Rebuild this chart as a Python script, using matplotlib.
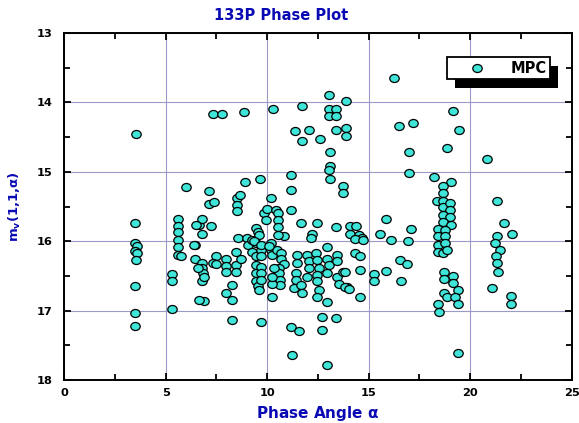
import matplotlib
matplotlib.use("Agg")
import matplotlib.pyplot as plt
from matplotlib.patches import Rectangle
from matplotlib.path import Path
from matplotlib.ticker import MultipleLocator

plt.rcParams['font.family'] = ['DejaVu Sans']
plt.rcParams['font.weight'] = 'bold'
plt.rcParams['mathtext.default'] = 'regular'

# MPC observations: phase angle (deg) and reduced magnitude
alpha = [
    3.57, 3.48, 3.48, 3.60, 3.48, 3.60, 3.55, 3.48, 3.48, 3.48,
    5.34, 5.34, 5.34, 5.59, 5.59, 5.59, 5.59, 5.59, 5.59, 5.78,
    6.01, 6.47, 6.47, 6.67, 6.78, 6.78, 6.78, 6.80, 6.85, 6.78,
    6.90, 6.90, 6.50, 6.42, 6.58, 6.64,
    7.16, 7.16, 7.38, 7.24, 7.48, 7.32, 7.50, 7.35, 7.78, 8.87,
    7.97, 7.97, 7.97, 7.97, 8.25, 8.25, 8.25, 8.46, 8.46, 8.46,
    8.71, 8.59, 8.54, 8.54, 8.54, 8.65, 8.90, 9.03, 9.08, 9.28,
    9.28, 9.44, 9.57, 9.44, 9.44, 9.44, 9.44, 9.44, 9.57, 9.61,
    9.69, 9.69, 9.69, 9.69, 9.69, 9.61, 9.66, 9.69, 9.85, 9.94,
    10.01, 10.18, 10.30, 10.18, 10.18, 10.26, 10.51, 10.67, 10.67, 10.83,
    10.83, 10.59, 10.59, 10.64, 10.64, 10.26, 10.26, 10.26, 10.34, 10.42,
    10.55, 10.55, 10.55, 10.55, 9.36, 9.69, 10.10,
    11.16, 11.16, 11.16, 11.37, 11.73, 12.06, 11.73, 12.62, 13.04, 13.04,
    13.37, 13.04, 13.37, 13.90, 13.37, 13.90, 13.90, 13.12, 13.12, 13.04,
    13.12, 13.76, 13.76, 11.65, 12.47, 13.37, 12.23, 12.14, 12.95, 11.48,
    11.48, 11.40, 11.40, 11.31, 11.65, 11.70, 11.98, 12.06, 12.06, 11.98,
    12.39, 12.47, 12.55, 12.47, 12.47, 12.55, 12.47, 12.95, 12.95, 13.04,
    12.95, 13.43, 13.43, 13.43, 13.53, 13.76, 13.94, 12.71, 13.37, 11.20,
    11.57, 12.71, 11.24, 12.95,
    16.26, 16.47, 17.16, 17.00, 17.00, 14.10, 14.40, 14.10, 14.51, 14.67,
    14.35, 14.71, 15.85, 15.57, 16.09, 17.08, 16.96, 14.35, 14.56, 13.86,
    14.56, 13.86, 14.02, 14.56, 15.28, 15.28, 15.85, 16.55, 16.87, 16.58,
    19.13, 19.46, 18.87, 20.84, 18.24, 19.05, 18.64, 18.64, 18.35, 18.64,
    18.64, 19.00, 19.00, 18.64, 19.00, 18.64, 19.05, 18.40, 18.76, 18.40,
    18.76, 18.40, 18.76, 18.40, 18.68, 18.88, 18.73, 18.73, 19.17, 19.17,
    19.38, 18.73, 18.88, 19.24, 18.43, 19.38, 18.46, 19.38,
    21.34, 21.67, 22.06, 21.34, 21.21, 21.45, 21.29, 21.34, 21.37, 21.05,
    21.99, 21.99,
]
mag = [
    14.46, 15.73, 16.03, 16.07, 16.14, 16.17, 16.27, 16.64, 17.03, 17.22,
    16.47, 16.58, 16.98, 15.68, 15.78, 15.87, 15.98, 16.09, 16.20, 16.22,
    15.22, 16.05, 16.25, 15.77, 15.68, 15.90, 16.31, 16.39, 16.46, 16.58,
    16.52, 16.86, 15.77, 16.05, 16.39, 16.85,
    15.28, 15.47, 15.44, 15.78, 16.22, 16.32, 16.33, 14.17, 14.16, 14.13,
    16.25, 16.36, 16.45, 16.75, 16.63, 16.85, 17.14, 16.15, 16.34, 16.45,
    16.26, 15.96, 15.38, 15.48, 15.57, 15.33, 15.14, 15.96, 16.05, 15.98,
    16.15, 15.81, 15.86, 16.03, 16.22, 16.34, 16.46, 16.58, 16.64, 15.91,
    16.13, 16.22, 16.37, 16.46, 16.56, 16.70, 15.11, 17.16, 15.60, 15.69,
    15.53, 15.38, 14.10, 16.03, 16.13, 16.20, 16.13, 16.17, 16.25, 16.33,
    15.93, 16.39, 16.46, 16.56, 16.63, 16.80, 16.61, 16.51, 16.39, 15.55,
    15.60, 15.69, 15.79, 15.91, 16.00, 16.05, 16.07,
    15.05, 15.26, 15.55, 14.41, 14.05, 14.40, 14.56, 14.52, 13.89, 14.10,
    14.10, 14.20, 14.20, 13.98, 14.40, 14.37, 14.48, 14.71, 14.92, 14.97,
    15.11, 15.20, 15.30, 15.74, 15.73, 15.79, 15.90, 15.96, 16.08, 16.20,
    16.32, 16.46, 16.56, 16.68, 16.63, 16.75, 16.20, 16.29, 16.39, 16.51,
    16.17, 16.27, 16.39, 16.49, 16.58, 16.70, 16.80, 16.87, 16.25, 16.34,
    16.46, 16.20, 16.29, 16.51, 16.61, 16.44, 16.66, 17.09, 17.10, 17.23,
    17.30, 17.28, 17.64, 17.78,
    13.64, 14.34, 14.30, 14.71, 15.01, 15.78, 15.78, 15.89, 15.91, 15.96,
    15.97, 15.98, 15.68, 15.90, 15.98, 15.82, 16.00, 16.17, 16.22, 16.45,
    16.42, 16.66, 16.69, 16.81, 16.47, 16.58, 16.43, 16.27, 16.33, 16.58,
    14.12, 14.40, 14.66, 14.81, 15.07, 15.15, 15.21, 15.31, 15.42, 15.42,
    15.50, 15.45, 15.55, 15.62, 15.65, 15.72, 15.77, 15.82, 15.84, 15.92,
    15.92, 16.05, 16.03, 16.15, 16.17, 16.12, 16.44, 16.54, 16.50, 16.60,
    16.70, 16.75, 16.81, 16.81, 16.91, 16.90, 17.02, 17.61,
    15.42, 15.73, 15.89, 15.93, 16.02, 16.13, 16.22, 16.32, 16.44, 16.67,
    16.79, 16.90,
]

blue = '#0A0AB4'

# slightly flattened circle for the markers
circ = Path.unit_circle()
oval = Path(circ.vertices * [1.0, 0.85], circ.codes)

fig = plt.figure(figsize=(5.79, 4.23), dpi=100)
ax = fig.add_axes([0.1105, 0.1017, 0.877, 0.820])

ax.plot(alpha, mag, marker=oval, ls='none', ms=6.8, mfc='#3EE5D8', mec='black',
        mew=0.9, label='MPC', zorder=3)

ax.set_xlim(0, 25)
ax.set_ylim(18, 13)
ax.xaxis.set_major_locator(MultipleLocator(5))
ax.xaxis.set_minor_locator(MultipleLocator(2.5))
ax.yaxis.set_major_locator(MultipleLocator(1))
ax.yaxis.set_minor_locator(MultipleLocator(0.5))
ax.grid(True, which='major', color='#9A9AC8', lw=0.8, zorder=0)
ax.tick_params(which='both', direction='in', top=True, right=True,
               width=1.3, labelsize=8.2)
ax.tick_params(which='major', length=5)
ax.tick_params(which='minor', length=4)
ax.tick_params(axis='y', pad=8)
ax.tick_params(axis='x', pad=5.5)
for sp in ax.spines.values():
    sp.set_linewidth(1.4)

ax.set_title('133P Phase Plot', color=blue, fontweight='bold', fontsize=10.5,
             x=0.427, pad=9.5)
ax.set_xlabel(r'Phase Angle $\alpha$', color=blue, fontweight='bold',
              fontsize=11)
ax.xaxis.set_label_coords(0.5, -0.068)
ax.set_ylabel(r'm$_\mathbf{v}$(1,1,$\alpha$)', color=blue, fontweight='bold',
              fontsize=9.5)
ax.yaxis.set_label_coords(-0.081, 0.5)

leg = ax.legend(loc='upper right', bbox_to_anchor=(0.957, 0.931), frameon=True,
                fancybox=False, edgecolor='black', framealpha=1,
                borderpad=0.25, handlelength=3.6, handletextpad=0.5,
                borderaxespad=0, prop={'weight': 'bold', 'size': 10.5})
leg.get_frame().set_linewidth(1.3)
leg.set_zorder(10)

# solid black drop shadow behind the legend box
fig.canvas.draw()
bb = leg.get_window_extent().transformed(fig.transFigure.inverted())
dx, dy = 8 / 579, 9 / 423
ax.add_artist(Rectangle((bb.x0 + dx, bb.y0 - dy), bb.width, bb.height,
                        transform=fig.transFigure, facecolor='black',
                        edgecolor='none', zorder=9, clip_on=False))

fig.savefig('out.png', dpi=100)
